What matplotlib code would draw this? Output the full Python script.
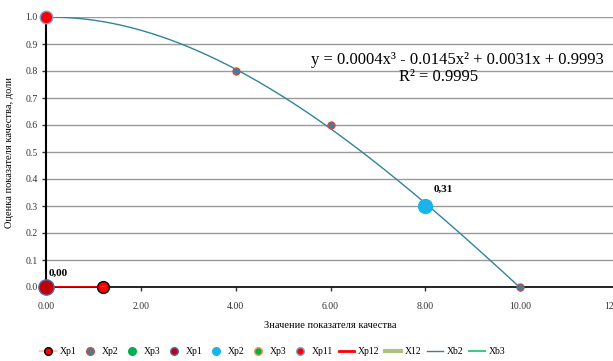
import matplotlib
matplotlib.use("Agg")
import matplotlib.pyplot as plt
import numpy as np

plt.rcParams['font.family'] = ['Liberation Serif', 'DejaVu Serif']

# данные
x_pts = [0, 4, 6, 8, 10]
y_pts = [1.0, 0.8, 0.6, 0.3, 0.0]
x_zero = [0.0]
y_zero = [0.0]
x_red = [0.0, 1.2]
y_red = [0.0, 0.0]
x_ticks = [0, 2, 4, 6, 8, 10, 12]
y_ticks = [0.0, 0.1, 0.2, 0.3, 0.4, 0.5, 0.6, 0.7, 0.8, 0.9, 1.0]
eq_line = "y = 0.0004x³ - 0.0145x² + 0.0031x + 0.9993"
r2_line = "R² = 0.9995"

fig = plt.figure(figsize=(6.13, 3.61), dpi=100)
ax = fig.add_axes([46 / 613, 74 / 361, 569 / 613, 270 / 361])

# тренд (полином 3-й степени по точкам)
coef = np.polyfit(x_pts, y_pts, 3)
xx = np.linspace(0, 10, 200)
yy = np.polyval(coef, xx)
yy = np.clip(yy, 0, 1)

ax.plot(x_red, y_red, color='#ff0000', lw=2, zorder=3)
h1, = ax.plot([x_red[1]], [y_red[1]], 'o', ms=8.5, mfc='#ff0000', mec='#000000',
              mew=1, color='#f4c7c7', ls='-', label='Xp1', zorder=5, clip_on=False)
ax.plot([x_red[1] - 0.04, x_red[1] + 0.04], [0, 0], color='white', lw=1, zorder=6)
h2, = ax.plot(x_pts[1:3] + [x_pts[4]], y_pts[1:3] + [y_pts[4]], 'o', ms=5,
              mfc='#3d7f9c', mec='#c0504d', mew=1, ls='none', label='Xp2',
              zorder=5, clip_on=False)
h3, = ax.plot([], [], 'o', ms=6, mfc='#00b050', mec='#00b050', ls='none', label='Xp3')
h4, = ax.plot(x_zero, y_zero, 'o', ms=11, mfc='#c00000', mec='#4f6ab8', mew=1,
              ls='none', label='Xp1', zorder=6, clip_on=False)
h5, = ax.plot([x_pts[3]], [y_pts[3]], 'o', ms=10, mfc='#19b4ec', mec='#19b4ec',
              ls='none', label='Xp2', zorder=5)
h6, = ax.plot([], [], 'o', ms=6, mfc='#00b050', mec='#f79646', ls='none', label='Xp3')
h7, = ax.plot([x_pts[0]], [y_pts[0]], 'o', ms=9, mfc='#ff0000', mec='#7f9fd8',
              mew=1, ls='none', label='Xp11', zorder=6, clip_on=False)
h8, = ax.plot([], [], color='#ff0000', lw=2, label='Xp12')
h9, = ax.plot([], [], color='#a9c47f', lw=3, label='X12')
h10, = ax.plot(xx, yy, color='#31849b', lw=1, label='Xb2', zorder=4)
h11, = ax.plot([], [], color='#3cc98a', lw=1.5, label='Xb3')

ax.annotate("0,00", (x_zero[0], y_zero[0]), xytext=(2, 8), textcoords='offset points',
            fontsize=8, fontweight='bold', zorder=7)
ax.annotate("0,31", (x_pts[3], y_pts[3]), xytext=(6, 10), textcoords='offset points',
            fontsize=8, fontweight='bold')
ax.text(8.67, 0.842, eq_line, fontsize=12, ha='center', va='center')
ax.text(8.27, 0.778, r2_line, fontsize=12, ha='center', va='center')

ax.set_xlim(0, 12)
ax.set_ylim(0, 1)
ax.set_xticks(x_ticks)
ax.set_xticklabels(["%.2f" % v for v in x_ticks])
ax.set_yticks(y_ticks)
ax.set_yticklabels(["%.1f" % v for v in y_ticks])
ax.tick_params(axis='both', labelsize=7, length=3, width=1, color='#333333',
               labelcolor='#333333', pad=8)
ax.tick_params(axis='y', pad=3)
ax.grid(axis='y', color='#9a9a9a', lw=1)
ax.set_axisbelow(True)
for s in ['top', 'right']:
    ax.spines[s].set_visible(False)
ax.spines['left'].set_linewidth(1.5)
ax.spines['bottom'].set_linewidth(1.2)

ax.set_xlabel("Значение показателя качества", fontsize=7.5, labelpad=7)
ax.set_ylabel("Оценка показателя качества, доли", fontsize=7.5, labelpad=8)

handles = [h1, h2, h3, h4, h5, h6, h7, h8, h9, h10, h11]
leg = fig.legend(handles=handles, loc='center', bbox_to_anchor=(0.445, 9 / 361),
                 ncol=11, fontsize=7, frameon=False, handlelength=1.6,
                 handletextpad=0.4, columnspacing=0.6)
for lh in leg.legend_handles:
    lh.set_markersize(5.5)

fig.savefig("out.png", dpi=100)
